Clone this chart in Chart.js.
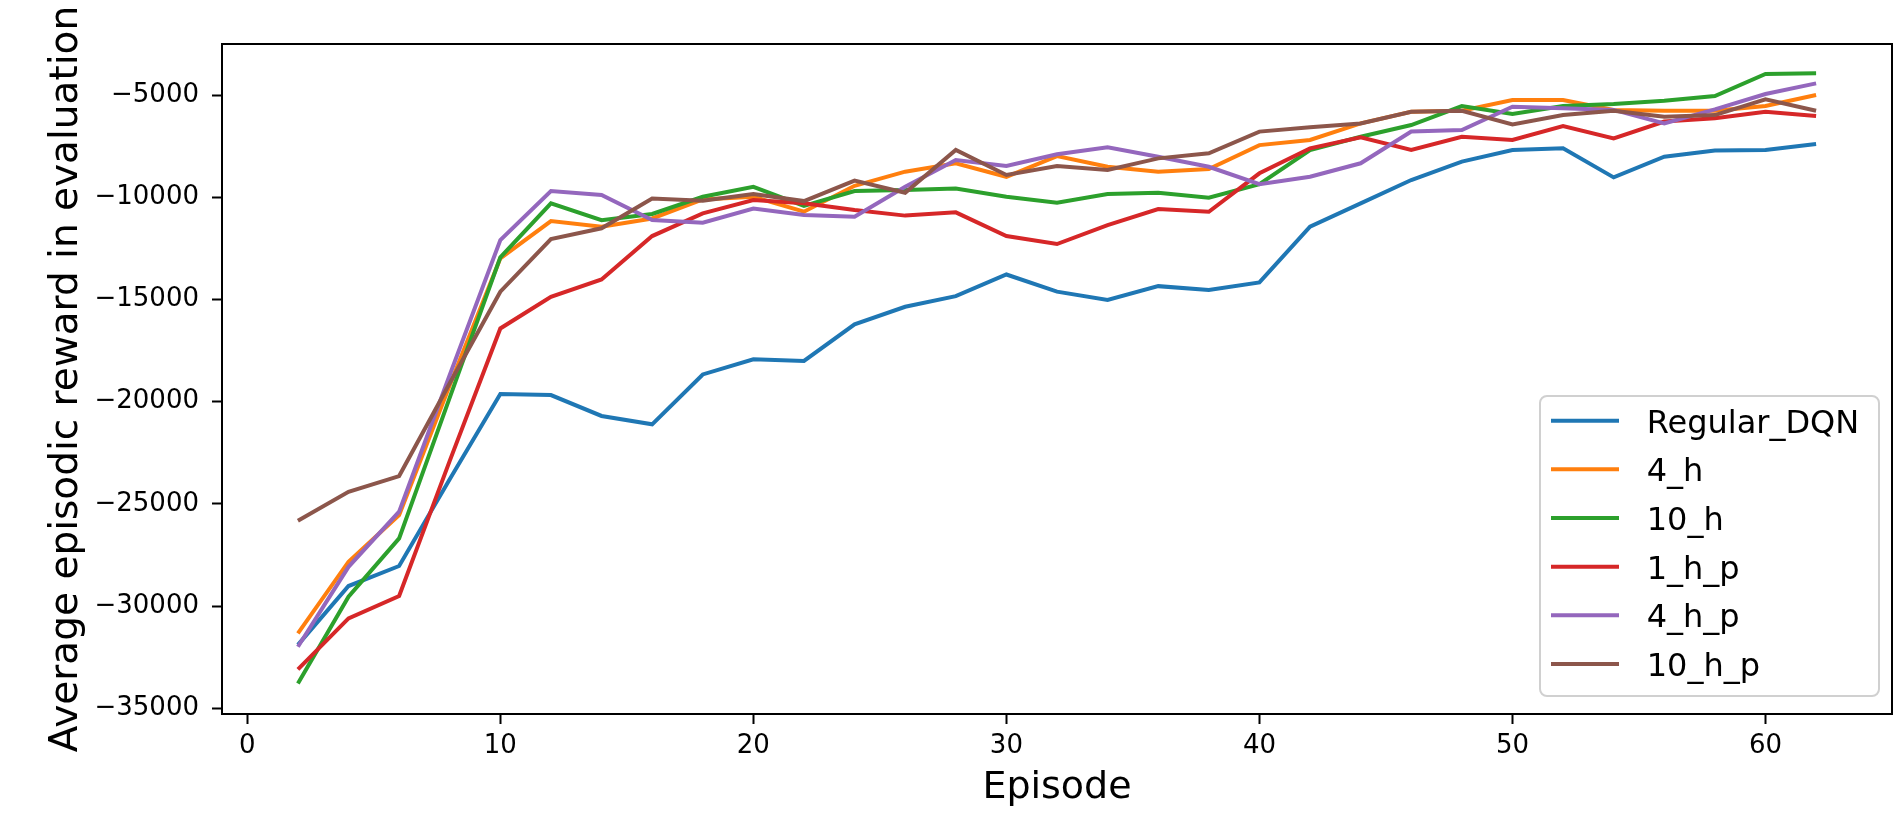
<!DOCTYPE html>
<html>
<head>
<meta charset="utf-8">
<script src="https://cdn.jsdelivr.net/npm/chart.js@4.4.1/dist/chart.umd.min.js"></script>
<style>
  html, body { margin: 0; padding: 0; background: #fff; }
  #wrap { width: 1896px; height: 813px; }
</style>
</head>
<body>
<div id="wrap"><canvas id="chart" width="1896" height="813"></canvas></div>
<script>
const EPISODES = [2, 4, 6, 8, 10, 12, 14, 16, 18, 20, 22, 24, 26, 28, 30, 32, 34, 36, 38, 40, 42, 44, 46, 48, 50, 52, 54, 56, 58, 60, 62];

const REGULAR_DQN = [-31900, -29020, -28040, -23800, -19630, -19680, -20700, -21110, -18670, -17930, -18010, -16220, -15360, -14840, -13780, -14620, -15030, -14350, -14540, -14170, -11440, -10300, -9160, -8260, -7690, -7610, -9030, -8020, -7720, -7690, -7400];
const H4 = [-31340, -27830, -25550, -19200, -12990, -11170, -11440, -11040, -10110, -9980, -10710, -9440, -8750, -8340, -9000, -7990, -8510, -8750, -8620, -7450, -7200, -6390, -5820, -5770, -5250, -5250, -5730, -5770, -5770, -5540, -5000];
const H10 = [-33790, -29540, -26690, -19800, -12940, -10300, -11120, -10820, -9980, -9490, -10420, -9700, -9650, -9570, -9980, -10270, -9840, -9780, -10020, -9360, -7690, -7040, -6470, -5540, -5930, -5540, -5440, -5280, -5050, -3970, -3940];
const H1P = [-33100, -30600, -29510, -22900, -16420, -14870, -14020, -11900, -10790, -10140, -10300, -10630, -10900, -10740, -11900, -12290, -11360, -10580, -10710, -8830, -7610, -7070, -7690, -7040, -7200, -6520, -7120, -6300, -6140, -5820, -6030];
const H4P = [-31990, -28080, -25380, -18700, -12100, -9700, -9890, -11120, -11250, -10550, -10870, -10950, -9490, -8180, -8470, -7900, -7560, -8020, -8510, -9360, -9000, -8340, -6790, -6710, -5570, -5650, -5730, -6390, -5700, -4950, -4430];
const H10P = [-25830, -24410, -23640, -19100, -14620, -12050, -11520, -10060, -10170, -9840, -10190, -9190, -9780, -7690, -8910, -8470, -8670, -8100, -7850, -6790, -6580, -6390, -5820, -5770, -6440, -5980, -5770, -6060, -5980, -5210, -5770];

const SERIES_NAMES = ['Regular_DQN', '4_h', '10_h', '1_h_p', '4_h_p', '10_h_p'];
const SERIES_VALUES = [REGULAR_DQN, H4, H10, H1P, H4P, H10P];
const COLORS = ['#1f77b4', '#ff7f0e', '#2ca02c', '#d62728', '#9467bd', '#8c564b'];

const X_TICKS = [0, 10, 20, 30, 40, 50, 60];
const Y_TICKS = [-35000, -30000, -25000, -20000, -15000, -10000, -5000];

const FONT = "'DejaVu Sans', sans-serif";

// box with all four spines, like matplotlib
const frame = {
  id: 'frame',
  afterDatasetsDraw(chart) {
    const { ctx, chartArea: a } = chart;
    ctx.save();
    ctx.strokeStyle = '#000';
    ctx.lineWidth = 2;
    ctx.strokeRect(a.left, a.top, a.right - a.left, a.bottom - a.top);
    ctx.restore();
  }
};

// legend in the lower right corner inside the plot
const legendBox = {
  id: 'legendBox',
  afterDraw(chart) {
    const { ctx, chartArea: a } = chart;
    const w = 339, h = 300;
    const x = a.right - 13 - w, y = a.bottom - 18 - h;
    ctx.save();
    ctx.beginPath();
    ctx.roundRect(x, y, w, h, 7);
    ctx.fillStyle = 'rgba(255,255,255,0.8)';
    ctx.fill();
    ctx.strokeStyle = '#d0d0d0';
    ctx.lineWidth = 2;
    ctx.stroke();
    ctx.font = '32px ' + FONT;
    ctx.textBaseline = 'alphabetic';
    chart.data.datasets.forEach((ds, i) => {
      const ry = y + 24.7 + i * 48.66;
      ctx.beginPath();
      ctx.moveTo(x + 11, ry);
      ctx.lineTo(x + 79, ry);
      ctx.strokeStyle = ds.borderColor;
      ctx.lineWidth = 4;
      ctx.stroke();
      ctx.fillStyle = '#000';
      ctx.fillText(ds.label, x + 106.7, ry + 12);
    });
    ctx.restore();
  }
};

function minus(v) {
  return v < 0 ? '\u2212' + Math.abs(v) : String(v);
}

function initChart() {
  const ctx = document.getElementById('chart').getContext('2d');
  const datasets = SERIES_NAMES.map((name, i) => ({
    label: name,
    data: EPISODES.map((e, j) => ({ x: e, y: SERIES_VALUES[i][j] })),
    borderColor: COLORS[i],
    backgroundColor: COLORS[i],
    borderWidth: 4,
    pointRadius: 0,
    tension: 0,
    fill: false,
    order: SERIES_NAMES.length - i,
  }));

  new Chart(ctx, {
    type: 'line',
    data: { datasets },
    plugins: [frame, legendBox],
    options: {
      responsive: false,
      animation: false,
      devicePixelRatio: 1,
      layout: { padding: { left: 0, right: 4, top: 44, bottom: 0 } },
      plugins: {
        legend: { display: false },
        tooltip: { enabled: false }
      },
      scales: {
        x: {
          type: 'linear',
          min: -1, max: 65,
          afterFit: s => { s.height = 99; },
          afterBuildTicks: s => { s.ticks = X_TICKS.map(v => ({ value: v })); },
          grid: { drawOnChartArea: false, drawTicks: true, tickLength: 10, tickColor: '#000', tickWidth: 2 },
          border: { display: false },
          ticks: { font: { family: FONT, size: 26 }, color: '#000', padding: 7, maxRotation: 0, autoSkip: false },
          title: { display: true, text: 'Episode', color: '#000', font: { family: FONT, size: 38, lineHeight: 1.2 }, padding: { top: 0, bottom: 2.3 } }
        },
        y: {
          type: 'linear',
          min: -35280, max: -2505,
          afterFit: s => { s.width = 222; },
          afterBuildTicks: s => { s.ticks = Y_TICKS.map(v => ({ value: v })); },
          grid: { drawOnChartArea: false, drawTicks: true, tickLength: 10, tickColor: '#000', tickWidth: 2 },
          border: { display: false },
          ticks: { font: { family: FONT, size: 26 }, color: '#000', padding: 13, callback: v => minus(v) },
          title: { display: true, text: 'Average episodic reward in evaluation', color: '#000', font: { family: FONT, size: 39, lineHeight: 1.2 }, padding: { top: 43, bottom: 0 } }
        }
      }
    }
  });
}

document.addEventListener('DOMContentLoaded', initChart);
</script>
</body>
</html>
